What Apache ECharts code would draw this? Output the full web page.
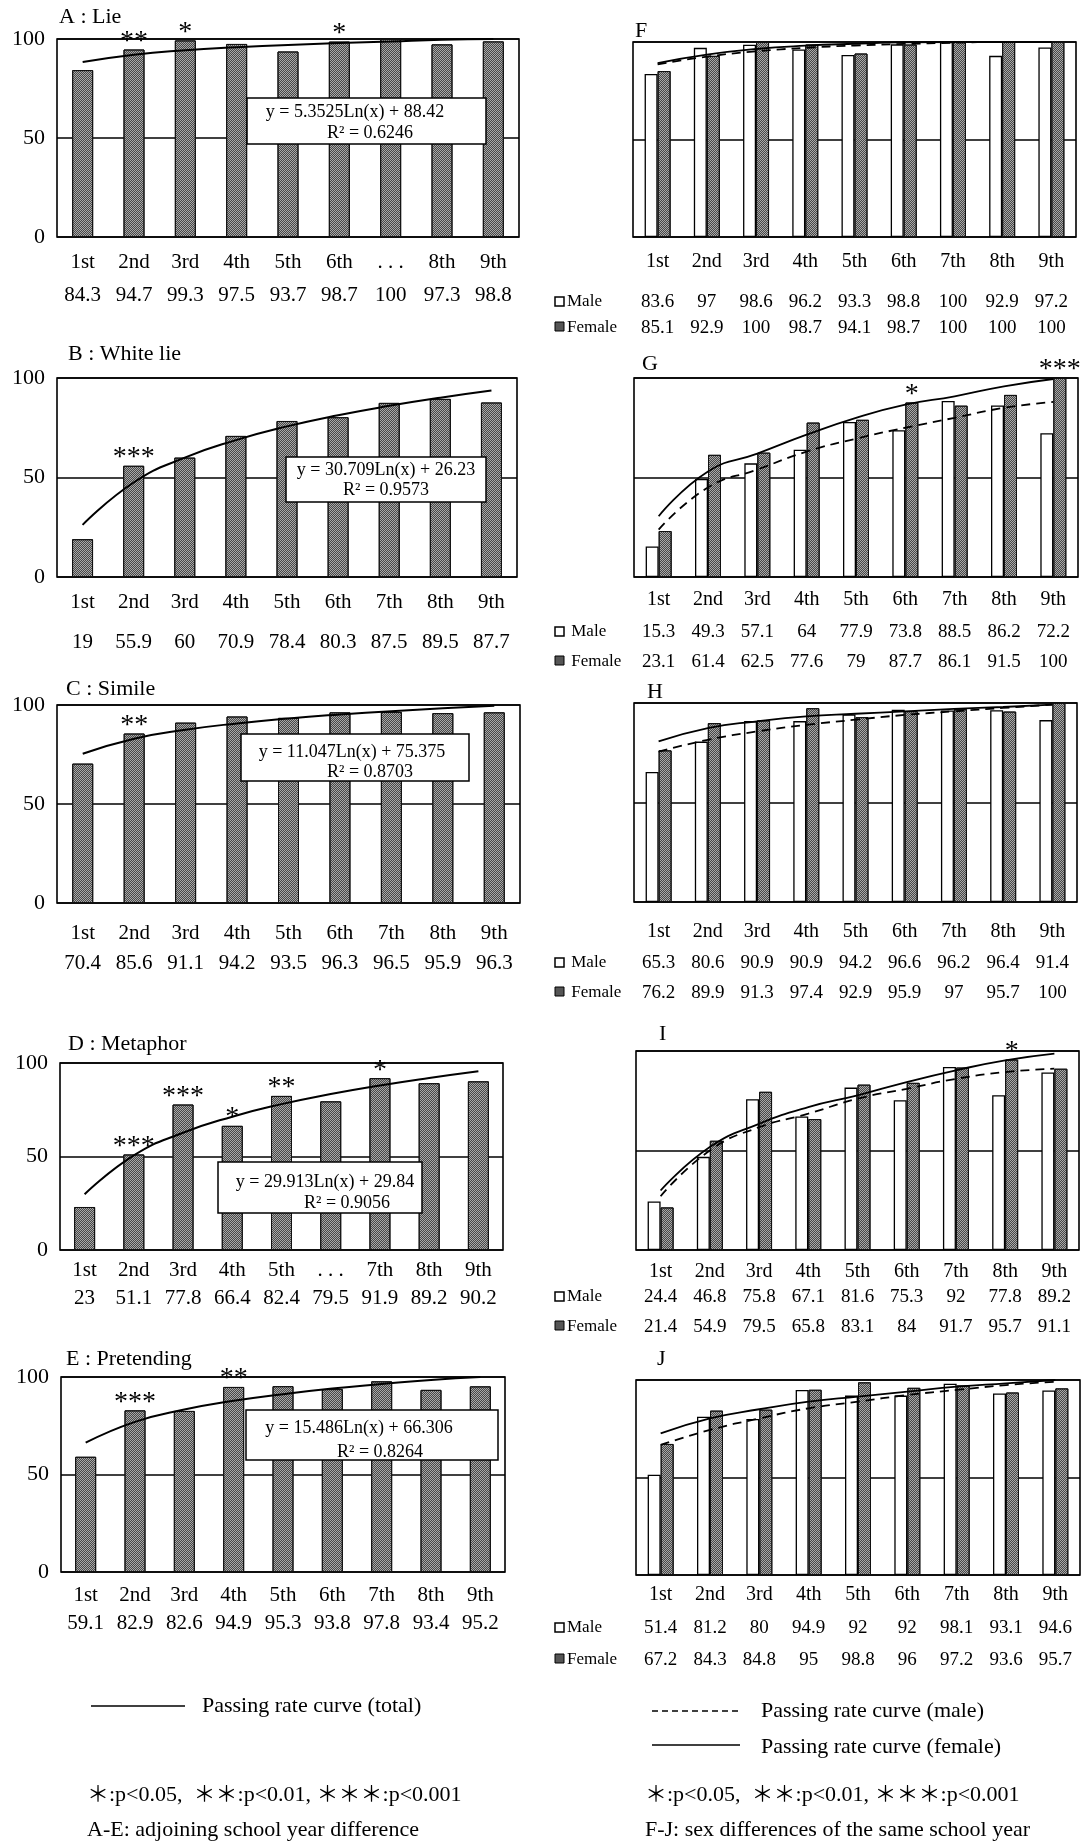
<!DOCTYPE html>
<html><head><meta charset="utf-8">
<script src="https://cdn.jsdelivr.net/npm/echarts/dist/echarts.min.js"></script>
<style>html,body{margin:0;padding:0;background:#fff}#c{width:1085px;height:1843px}</style>
</head><body><div id="c"></div>
<script>
// ---------- DATA ----------
const grades = ['1st','2nd','3rd','4th','5th','6th','7th','8th','9th'];
const gradesA = ['1st','2nd','3rd','4th','5th','6th','. . .','8th','9th'];
const gradesD = ['1st','2nd','3rd','4th','5th','. . .','7th','8th','9th'];

const lieTotal = [84.3, 94.7, 99.3, 97.5, 93.7, 98.7, 100, 97.3, 98.8];
const whiteLieTotal = [19, 55.9, 60, 70.9, 78.4, 80.3, 87.5, 89.5, 87.7];
const simileTotal = [70.4, 85.6, 91.1, 94.2, 93.5, 96.3, 96.5, 95.9, 96.3];
const metaphorTotal = [23, 51.1, 77.8, 66.4, 82.4, 79.5, 91.9, 89.2, 90.2];
const pretendTotal = [59.1, 82.9, 82.6, 94.9, 95.3, 93.8, 97.8, 93.4, 95.2];

// passing-rate curves
const lieCurve = [88.4, 92.1, 94.3, 95.8, 97.0, 98.0, 98.8, 99.6, 100];
const whiteLieCurve = [26.2, 47.5, 60.0, 68.8, 75.7, 81.3, 86.0, 90.1, 93.7];
const simileCurve = [75.4, 83.0, 87.5, 90.7, 93.2, 95.2, 96.9, 98.3, 99.6];
const metaphorCurve = [29.8, 50.6, 62.7, 71.3, 78.0, 83.4, 88.0, 92.0, 95.6];
const pretendCurve = [66.3, 77.0, 83.3, 87.8, 91.2, 94.1, 96.4, 98.5, 100];

const lieStars = ['', '**', '*', '', '', '*', '', '', ''];
const whiteLieStars = ['', '***', '', '', '', '', '', '', ''];
const simileStars = ['', '**', '', '', '', '', '', '', ''];
const metaphorStars = ['', '***', '***', '*', '**', '', '*', '', ''];
const pretendStars = ['', '***', '', '**', '', '', '', '', ''];

const lieMale = [83.6, 97, 98.6, 96.2, 93.3, 98.8, 100, 92.9, 97.2];
const lieFemale = [85.1, 92.9, 100, 98.7, 94.1, 98.7, 100, 100, 100];
const whiteLieMale = [15.3, 49.3, 57.1, 64, 77.9, 73.8, 88.5, 86.2, 72.2];
const whiteLieFemale = [23.1, 61.4, 62.5, 77.6, 79, 87.7, 86.1, 91.5, 100];
const simileMale = [65.3, 80.6, 90.9, 90.9, 94.2, 96.6, 96.2, 96.4, 91.4];
const simileFemale = [76.2, 89.9, 91.3, 97.4, 92.9, 95.9, 97, 95.7, 100];
const metaphorMale = [24.4, 46.8, 75.8, 67.1, 81.6, 75.3, 92, 77.8, 89.2];
const metaphorFemale = [21.4, 54.9, 79.5, 65.8, 83.1, 84, 91.7, 95.7, 91.1];
const pretendMale = [51.4, 81.2, 80, 94.9, 92, 92, 98.1, 93.1, 94.6];
const pretendFemale = [67.2, 84.3, 84.8, 95, 98.8, 96, 97.2, 93.6, 95.7];

const lieMaleCurve = [88.5, 92.5, 95.2, 97.0, 98.2, 99.0, 99.6, 100, 100];
const lieFemaleCurve = [89.2, 93.5, 96.4, 98.1, 99.1, 99.8, 100, 100, 100];
const whiteLieMaleCurve = [23.8, 45, 54, 63, 69.5, 75, 80, 85, 88];
const whiteLieFemaleCurve = [30.5, 53, 62, 71.5, 80, 86.6, 90.8, 95.8, 99.5];
const simileMaleCurve = [75.6, 81.5, 85.7, 89, 91.6, 94, 95.8, 97.5, 99.2];
const simileFemaleCurve = [80.7, 87.4, 90.8, 93.3, 94.6, 95.8, 97, 98, 99.2];
const metaphorMaleCurve = [27, 50, 61.7, 68.5, 76, 81, 86, 89.4, 91.1];
const metaphorFemaleCurve = [29.9, 51.7, 63.4, 71.8, 77.7, 84.4, 90.3, 95.3, 98.7];
const pretendMaleCurve = [66.7, 74.4, 80.3, 85.5, 88.9, 92.3, 94.9, 97.4, 99.1];
const pretendFemaleCurve = [72.6, 80.3, 85, 88.9, 91.5, 94, 96.6, 98.3, 100];

const whiteLieSexStars = ['', '', '', '', '', '*', '', '', '***'];
const metaphorSexStars = ['', '', '', '', '', '', '', '*', ''];
const noStars = ['', '', '', '', '', '', '', '', ''];

// ---------- LAYOUT ----------
const SERIF = '"Liberation Serif", "Times New Roman", serif';
const leftPanels = [
  {title:'A : Lie', cats:gradesA, vals:lieTotal, curve:lieCurve, stars:lieStars,
   eq:['y = 5.3525Ln(x) + 88.42','R\u00b2 = 0.6246'], box:[247,98,486,144], eqX:[355,370], eqY:[112,133],
   L:57,R:519,T:39,B:237,catY:262,valY:295,tx:59,ty:18},
  {title:'B : White lie', cats:grades, vals:whiteLieTotal, curve:whiteLieCurve, stars:whiteLieStars,
   eq:['y = 30.709Ln(x) + 26.23','R\u00b2 = 0.9573'], box:[286,457,486,502], eqX:[386,386], eqY:[470,490],
   L:57,R:517,T:378,B:577,catY:602,valY:642,tx:68,ty:355},
  {title:'C : Simile', cats:grades, vals:simileTotal, curve:simileCurve, stars:simileStars,
   eq:['y = 11.047Ln(x) + 75.375','R\u00b2 = 0.8703'], box:[241,734,469,781], eqX:[352,370], eqY:[752,772],
   L:57,R:520,T:705,B:903,catY:933,valY:963,tx:66,ty:690},
  {title:'D : Metaphor', cats:gradesD, vals:metaphorTotal, curve:metaphorCurve, stars:metaphorStars,
   eq:['y = 29.913Ln(x) + 29.84','R\u00b2 = 0.9056'], box:[218,1162,422,1213], eqX:[325,347], eqY:[1182,1203],
   L:60,R:503,T:1063,B:1250,catY:1270,valY:1298,tx:68,ty:1045},
  {title:'E : Pretending', cats:grades, vals:pretendTotal, curve:pretendCurve, stars:pretendStars,
   eq:['y = 15.486Ln(x) + 66.306','R\u00b2 = 0.8264'], box:[246,1410,498,1460], eqX:[359,380], eqY:[1428,1452],
   L:61,R:505,T:1377,B:1572,catY:1595,valY:1623,tx:66,ty:1360}
];
const rightPanels = [
  {title:'F', male:lieMale, female:lieFemale, mc:lieMaleCurve, fc:lieFemaleCurve, stars:noStars,
   L:633,R:1076,T:42,B:237,catY:262,mY:302,fY:328,tx:635,ty:32,sp:''},
  {title:'G', male:whiteLieMale, female:whiteLieFemale, mc:whiteLieMaleCurve, fc:whiteLieFemaleCurve, stars:whiteLieSexStars,
   L:634,R:1078,T:378,B:577,catY:600,mY:632,fY:662,tx:642,ty:365,sp:' '},
  {title:'H', male:simileMale, female:simileFemale, mc:simileMaleCurve, fc:simileFemaleCurve, stars:noStars,
   L:634,R:1077,T:703,B:902,catY:932,mY:963,fY:993,tx:647,ty:693,sp:' '},
  {title:'I', male:metaphorMale, female:metaphorFemale, mc:metaphorMaleCurve, fc:metaphorFemaleCurve, stars:metaphorSexStars,
   L:636,R:1079,T:1051,B:1250,catY:1272,mY:1297,fY:1327,tx:659,ty:1035,sp:''},
  {title:'J', male:pretendMale, female:pretendFemale, mc:pretendMaleCurve, fc:pretendFemaleCurve, stars:noStars,
   L:636,R:1080,T:1380,B:1575,catY:1595,mY:1628,fY:1660,tx:657,ty:1360,sp:''}
];

const grayStyle = {
  color: '#a8a8a8', borderColor: '#111', borderWidth: 1,
  decal: { symbol: 'rect', symbolSize: 1, color: 'rgba(40,40,40,0.75)',
           dashArrayX: [[1, 1], [0, 1, 1, 0]], dashArrayY: [1, 0], rotation: 0 }
};
const whiteStyle = { color: '#fff', borderColor: '#000', borderWidth: 1.3 };

const option = { animation:false, backgroundColor:'#fff', grid:[], xAxis:[], yAxis:[], series:[], graphic:[] };

function addPanel(p, isLeft) {
  const gi = option.grid.length;
  option.grid.push({left:p.L, top:p.T, width:p.R-p.L, height:p.B-p.T, show:true,
    borderColor:'#000', borderWidth:1.6, backgroundColor:'rgba(0,0,0,0)'});
  const catFs = isLeft ? 21 : 20;
  const valFs = isLeft ? 21 : 19;
  const xi = option.xAxis.length;
  option.xAxis.push({gridIndex:gi, type:'category', data: isLeft ? p.cats : grades, position:'bottom',
    axisLine:{show:false}, axisTick:{show:false}, splitLine:{show:false},
    axisLabel:{interval:0, margin:p.catY - p.B - catFs/2, fontSize:catFs, fontFamily:SERIF, color:'#000'}});
  const rows = isLeft ? [[p.vals, p.valY]] : [[p.male, p.mY], [p.female, p.fY]];
  rows.forEach(([arr, y]) => {
    option.xAxis.push({gridIndex:gi, type:'category', data: arr.map(String), position:'bottom',
      axisLine:{show:false}, axisTick:{show:false}, splitLine:{show:false},
      axisLabel:{interval:0, margin:y - p.B - valFs/2, fontSize:valFs, fontFamily:SERIF, color:'#000'}});
  });
  const yi = option.yAxis.length;
  option.yAxis.push({gridIndex:gi, type:'value', min:0, max:100, interval:50,
    axisLine:{show:false}, axisTick:{show:false},
    axisLabel:{show:isLeft, margin:12, fontSize:22, fontFamily:SERIF, color:'#000'},
    splitLine:{show:true, lineStyle:{color:'#000', width:1.5}}});
  const starLabel = (arr) => ({show:true, position:'top', distance:-6,
    formatter: pr => arr[pr.dataIndex], fontSize:28, fontFamily:SERIF, color:'#000'});
  if (isLeft) {
    option.series.push({type:'bar', xAxisIndex:xi, yAxisIndex:yi, data:p.vals, barWidth:21,
      itemStyle:grayStyle, label:starLabel(p.stars), z:2});
    option.series.push({type:'line', xAxisIndex:xi, yAxisIndex:yi, data:p.curve, smooth:0.5,
      symbol:'none', lineStyle:{color:'#000', width:2}, z:5});
    // title
    option.graphic.push({type:'text', left:p.tx, top:p.ty-12, z:10,
      style:{text:p.title, font:'22px '+SERIF, fill:'#000'}});
    // equation box
    option.graphic.push({type:'rect', shape:{x:p.box[0], y:p.box[1], width:p.box[2]-p.box[0], height:p.box[3]-p.box[1]},
      style:{fill:'#fff', stroke:'#000', lineWidth:1.5}, z:20});
    p.eq.forEach((t, k) => option.graphic.push({type:'text', x:p.eqX[k], y:p.eqY[k], z:21,
      style:{text:t, font:'18px '+SERIF, fill:'#000', align:'center', verticalAlign:'middle'}}));
  } else {
    option.series.push({name:'Male', type:'bar', xAxisIndex:xi, yAxisIndex:yi, data:p.male, barWidth:13, barGap:'0%',
      itemStyle:whiteStyle, z:2});
    option.series.push({name:'Female', type:'bar', xAxisIndex:xi, yAxisIndex:yi, data:p.female, barWidth:13, barGap:'0%',
      itemStyle:grayStyle, label:starLabel(p.stars), z:2});
    option.series.push({type:'line', xAxisIndex:xi, yAxisIndex:yi, data:p.mc, smooth:0.5, symbol:'none',
      lineStyle:{color:'#000', width:1.8, type:[9,6]}, z:5});
    option.series.push({type:'line', xAxisIndex:xi, yAxisIndex:yi, data:p.fc, smooth:0.5, symbol:'none',
      lineStyle:{color:'#000', width:1.8}, z:5});
    option.graphic.push({type:'text', left:p.tx, top:p.ty-12, z:10,
      style:{text:p.title, font:'22px '+SERIF, fill:'#000'}});
    // row legends
    option.graphic.push({type:'rect', shape:{x:555, y:p.mY-5, width:9, height:9},
      style:{fill:'#fff', stroke:'#000', lineWidth:1.5}, z:10});
    option.graphic.push({type:'text', x:567, y:p.mY, z:10,
      style:{text:p.sp+'Male', font:'17px '+SERIF, fill:'#000', verticalAlign:'middle'}});
    option.graphic.push({type:'rect', shape:{x:555, y:p.fY-6, width:9, height:9},
      style:{fill:'#555', stroke:'#000', lineWidth:1}, z:10});
    option.graphic.push({type:'text', x:567, y:p.fY, z:10,
      style:{text:p.sp+'Female', font:'17px '+SERIF, fill:'#000', verticalAlign:'middle'}});
  }
}
leftPanels.forEach(p => addPanel(p, true));
rightPanels.forEach(p => addPanel(p, false));

// bottom legends and notes
const noteFont = '22px ' + SERIF + ', "Noto Sans CJK JP"';
option.graphic.push(
  {type:'line', shape:{x1:91, y1:1706, x2:185, y2:1706}, style:{stroke:'#000', lineWidth:1.5}},
  {type:'text', x:202, y:1706, style:{text:'Passing rate curve (total)', font:'22px '+SERIF, fill:'#000', verticalAlign:'middle'}},
  {type:'line', shape:{x1:652, y1:1711, x2:740, y2:1711}, style:{stroke:'#000', lineWidth:1.5, lineDash:[6,4]}},
  {type:'text', x:761, y:1711, style:{text:'Passing rate curve (male)', font:'22px '+SERIF, fill:'#000', verticalAlign:'middle'}},
  {type:'line', shape:{x1:652, y1:1745, x2:740, y2:1745}, style:{stroke:'#000', lineWidth:1.5}},
  {type:'text', x:761, y:1747, style:{text:'Passing rate curve (female)', font:'22px '+SERIF, fill:'#000', verticalAlign:'middle'}},
  {type:'text', x:87, y:1795, style:{text:'\uff0a:p<0.05,  \uff0a\uff0a:p<0.01, \uff0a\uff0a\uff0a:p<0.001', font:noteFont, fill:'#000', verticalAlign:'middle'}},
  {type:'text', x:645, y:1795, style:{text:'\uff0a:p<0.05,  \uff0a\uff0a:p<0.01, \uff0a\uff0a\uff0a:p<0.001', font:noteFont, fill:'#000', verticalAlign:'middle'}},
  {type:'text', x:87, y:1830, style:{text:'A-E: adjoining school year difference', font:'22px '+SERIF, fill:'#000', verticalAlign:'middle'}},
  {type:'text', x:645, y:1830, style:{text:'F-J: sex differences of the same school year', font:'22px '+SERIF, fill:'#000', verticalAlign:'middle'}}
);

const chart = echarts.init(document.getElementById('c'), null, {renderer:'canvas'});
chart.setOption(option);
</script></body></html>
